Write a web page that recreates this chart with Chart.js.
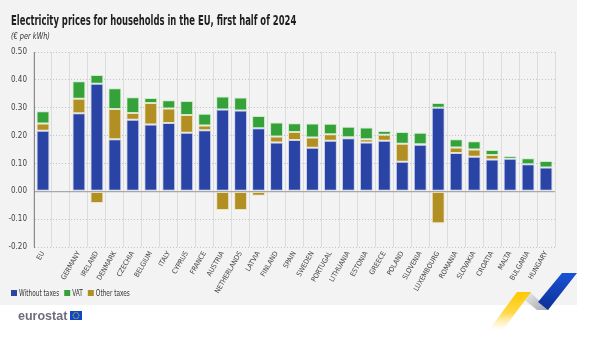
<!DOCTYPE html>
<html>
<head>
<meta charset="utf-8">
<script src="https://cdn.jsdelivr.net/npm/chart.js@4/dist/chart.umd.min.js"></script>
<style>
  html, body { margin: 0; padding: 0; background: #ffffff; }
  #wrap { width: 600px; height: 342px; position: relative; }
</style>
</head>
<body>
<div id="wrap"><canvas id="chart" width="600" height="342"></canvas></div>
<script>
// Household electricity prices, first half of 2024 (EUR per kWh)
const categories = ['EU', '', 'GERMANY', 'IRELAND', 'DENMARK', 'CZECHIA', 'BELGIUM', 'ITALY', 'CYPRUS',
  'FRANCE', 'AUSTRIA', 'NETHERLANDS', 'LATVIA', 'FINLAND', 'SPAIN', 'SWEDEN', 'PORTUGAL', 'LITHUANIA',
  'ESTONIA', 'GREECE', 'POLAND', 'SLOVENIA', 'LUXEMBOURG', 'ROMANIA', 'SLOVAKIA', 'CROATIA', 'MALTA',
  'BULGARIA', 'HUNGARY'];

const withoutTaxes = [0.217, null, 0.280, 0.386, 0.187, 0.257, 0.240, 0.245, 0.210,
  0.219, 0.294, 0.290, 0.226, 0.175, 0.184, 0.156, 0.181, 0.190,
  0.175, 0.181, 0.106, 0.167, 0.300, 0.137, 0.124, 0.114, 0.117,
  0.097, 0.085];

const otherTaxes = [0.026, null, 0.052, -0.042, 0.108, 0.024, 0.077, 0.052, 0.064,
  0.017, -0.067, -0.067, -0.016, 0.022, 0.029, 0.037, 0.024, 0.004,
  0.012, 0.022, 0.065, 0.002, -0.115, 0.020, 0.026, 0.016, 0,
  0, 0];

const vat = [0.044, null, 0.063, 0.031, 0.075, 0.057, 0.018, 0.030, 0.050,
  0.042, 0.046, 0.047, 0.044, 0.050, 0.031, 0.050, 0.037, 0.038,
  0.042, 0.013, 0.042, 0.041, 0.017, 0.030, 0.030, 0.018, 0.010,
  0.022, 0.024];

const yTicks = [-0.2, -0.1, 0, 0.1, 0.2, 0.3, 0.4, 0.5];

const TITLE = 'Electricity prices for households in the EU, first half of 2024';
const SUBTITLE = '(€ per kWh)';

const COLORS = { base: '#2a44a6', vat: '#34a139', other: '#b28f22' };
const NARROW = "'Liberation Sans Narrow', 'DejaVu Sans Condensed', 'Roboto Condensed', sans-serif";

// Stacking follows dataset index: base price, then other taxes, then VAT on top
const datasets = [
  { key: 'base', label: 'Without taxes', data: withoutTaxes, backgroundColor: COLORS.base, borderColor: 'rgba(170,185,235,0.55)' },
  { key: 'other', label: 'Other taxes', data: otherTaxes, backgroundColor: COLORS.other, borderColor: 'rgba(235,215,150,0.55)' },
  { key: 'vat', label: 'VAT', data: vat, backgroundColor: COLORS.vat, borderColor: 'rgba(170,230,170,0.55)' }
].map(d => Object.assign(d, { borderWidth: 1, borderSkipped: false, categoryPercentage: 1, barPercentage: 0.72 }));

const legendOrder = ['base', 'vat', 'other'];

// text squeezed horizontally to mimic a narrow typeface; returns drawn width
function narrowText(ctx, text, x, y, font, color, squeeze) {
  ctx.save();
  ctx.font = font;
  ctx.fillStyle = color;
  ctx.translate(x, y);
  ctx.scale(squeeze, 1);
  ctx.fillText(text, 0, 0);
  const w = ctx.measureText(text).width * squeeze;
  ctx.restore();
  return w;
}

const framePlugin = {
  id: 'frame',
  beforeDraw(chart) {
    const ctx = chart.ctx;
    ctx.save();
    ctx.fillStyle = '#ffffff';
    ctx.fillRect(0, 0, chart.width, chart.height);
    ctx.fillStyle = '#f3f3f3';
    ctx.fillRect(0, 0, 577, 305);
    ctx.restore();
  },
  afterDraw(chart) {
    const ctx = chart.ctx;
    ctx.save();
    ctx.textBaseline = 'alphabetic';
    ctx.textAlign = 'left';

    // heading
    narrowText(ctx, TITLE, 11, 25, 'bold 14px ' + NARROW, '#1e1e1e', 0.67);
    narrowText(ctx, SUBTITLE, 11, 38.5, 'italic 8.5px ' + NARROW, '#333333', 0.86);

    // legend
    let x = 11;
    const y = 293;
    legendOrder.forEach(k => {
      const ds = chart.data.datasets.find(d => d.key === k);
      ctx.fillStyle = ds.backgroundColor;
      ctx.fillRect(x, y - 3, 6, 6);
      const w = narrowText(ctx, ds.label, x + 8, y + 3, '8.5px ' + NARROW, '#333333', 0.76);
      x += 8 + w + 5;
    });

    // eurostat wordmark
    ctx.font = 'bold 12.5px "Liberation Sans", Arial, sans-serif';
    ctx.fillStyle = '#6d6d7e';
    ctx.fillText('eurostat', 18, 320);
    // flag
    ctx.fillStyle = '#0f47c8';
    ctx.fillRect(70, 311, 12, 9);
    ctx.fillStyle = '#f5d800';
    for (let i = 0; i < 12; i++) {
      const a = i * Math.PI / 6;
      ctx.beginPath();
      ctx.arc(76 + Math.cos(a) * 3, 315.5 + Math.sin(a) * 3, 0.5, 0, Math.PI * 2);
      ctx.fill();
    }

    // ribbon decoration
    const yg = ctx.createLinearGradient(0, 292, 0, 330);
    yg.addColorStop(0, '#ffc800');
    yg.addColorStop(0.55, '#ffd84a');
    yg.addColorStop(1, 'rgba(255,230,150,0)');
    const gg = ctx.createLinearGradient(530, 292, 545, 310);
    gg.addColorStop(0, '#e4e4e6');
    gg.addColorStop(1, '#a9abb3');
    const bg = ctx.createLinearGradient(0, 273, 0, 310);
    bg.addColorStop(0, '#1a52d6');
    bg.addColorStop(1, '#0c2f94');
    ctx.fillStyle = gg;
    ctx.beginPath();
    ctx.moveTo(530, 292); ctx.lineTo(549, 310); ctx.lineTo(537, 310); ctx.lineTo(520, 296);
    ctx.closePath(); ctx.fill();
    ctx.fillStyle = bg;
    ctx.beginPath();
    ctx.moveTo(562, 273); ctx.lineTo(577, 273); ctx.lineTo(548, 310); ctx.lineTo(538, 302);
    ctx.closePath(); ctx.fill();
    ctx.fillStyle = yg;
    ctx.beginPath();
    ctx.moveTo(517, 292); ctx.lineTo(531, 292); ctx.lineTo(503, 330); ctx.lineTo(489, 330);
    ctx.closePath(); ctx.fill();
    ctx.restore();
  }
};

new Chart(document.getElementById('chart'), {
  type: 'bar',
  data: { labels: categories, datasets },
  plugins: [framePlugin],
  options: {
    responsive: false,
    animation: false,
    layout: { padding: { left: 4, right: 45, top: 52, bottom: 45 } },
    plugins: {
      legend: { display: false },
      tooltip: { enabled: false },
      title: { display: false },
      subtitle: { display: false }
    },
    scales: {
      x: {
        stacked: true,
        afterFit(scale) { scale.height = 50; },
        grid: { display: true, offset: true, color: '#dcdcdc', lineWidth: 1, drawTicks: false },
        border: { display: false },
        ticks: {
          autoSkip: false, maxRotation: 60, minRotation: 60, padding: 3,
          color: '#444444', font: { family: NARROW, size: 7 }
        }
      },
      y: {
        stacked: true,
        min: -0.2, max: 0.5,
        afterFit(scale) { scale.width = 30; },
        afterBuildTicks(scale) { scale.ticks = yTicks.map(v => ({ value: v })); },
        grid: {
          drawTicks: false,
          color: ctx => (ctx.tick && ctx.tick.value === 0) ? '#a8a8a8' : '#c4c4c4',
          lineWidth: ctx => (ctx.tick && ctx.tick.value === 0) ? 1.3 : 1
        },
        border: {
          display: true, color: '#8a8a8a', width: 1,
          dash: ctx => (ctx.tick && ctx.tick.value !== 0) ? [1, 2] : []
        },
        ticks: {
          padding: 7, color: '#444444', font: { family: NARROW, size: 8 },
          callback: v => Number(v).toFixed(2)
        }
      }
    }
  }
});
</script>
</body>
</html>
